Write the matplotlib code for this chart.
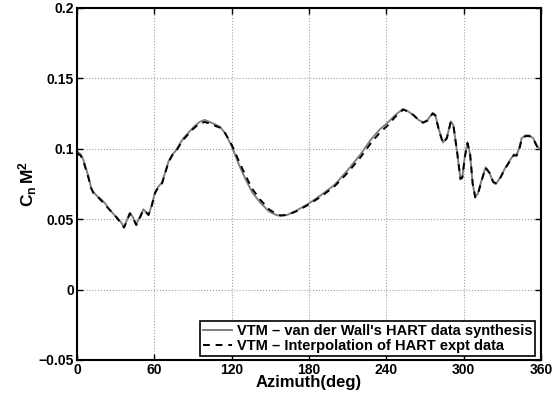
import matplotlib
matplotlib.use("Agg")
import matplotlib.pyplot as plt

plt.rcParams['font.family'] = ['Liberation Sans', 'DejaVu Sans']
plt.rcParams['font.weight'] = 'bold'
plt.rcParams['mathtext.fontset'] = 'custom'
plt.rcParams['mathtext.rm'] = 'Liberation Sans:bold'
plt.rcParams['mathtext.bf'] = 'Liberation Sans:bold'
plt.rcParams['mathtext.it'] = 'Liberation Sans:bold'

azimuth = [0, 3, 5, 7, 9, 11, 13, 16, 19, 22, 25, 28, 31, 34, 36.5, 39, 41, 43, 46, 49,
           51.5, 53.5, 55.5, 58, 60.5, 63, 66, 68, 71, 74, 77, 80, 83, 86, 90, 95, 99,
           103, 108, 111, 115, 120, 126, 131, 136, 142, 149, 155, 158, 163, 170, 180,
           190, 200, 210, 220, 228, 235, 241, 247, 253, 257, 261, 265, 268.5, 272, 276,
           278, 281, 284, 287, 290, 292, 295, 297.5, 299, 301, 303, 305, 307, 309, 311,
           314, 317, 320, 323, 325, 328, 332, 336, 339, 341, 343, 345, 348, 351, 354,
           357, 360]

synthesis = [0.098, 0.096, 0.092, 0.086, 0.080, 0.072, 0.069, 0.066, 0.064, 0.061, 0.057,
             0.054, 0.051, 0.048, 0.0445, 0.050, 0.0545, 0.052, 0.0465, 0.052, 0.057,
             0.055, 0.053, 0.060, 0.069, 0.073, 0.076, 0.082, 0.091, 0.096, 0.099, 0.104,
             0.108, 0.111, 0.115, 0.119, 0.1205, 0.119, 0.117, 0.1155, 0.111, 0.102,
             0.088, 0.078, 0.069, 0.062, 0.0555, 0.0528, 0.0524, 0.0530, 0.0560, 0.0612,
             0.0675, 0.0745, 0.0848, 0.0960, 0.1065, 0.1138, 0.1185, 0.1240, 0.1283,
             0.1265, 0.1240, 0.1205, 0.1188, 0.1205, 0.1255, 0.1240, 0.1130, 0.1045,
             0.1080, 0.1195, 0.1170, 0.0970, 0.0790, 0.0800, 0.0950, 0.1045, 0.0960,
             0.0750, 0.0660, 0.0680, 0.0780, 0.0868, 0.0830, 0.0760, 0.0750, 0.0790,
             0.0860, 0.0920, 0.0960, 0.0955, 0.1000, 0.1075, 0.1095, 0.1095, 0.1075,
             0.1020, 0.0990]

interpolation = [0.097, 0.095, 0.091, 0.085, 0.079, 0.072, 0.068, 0.066, 0.063, 0.060,
                 0.057, 0.054, 0.051, 0.047, 0.0440, 0.0495, 0.0540, 0.0515, 0.0458,
                 0.0515, 0.0565, 0.0550, 0.0530, 0.0595, 0.0685, 0.0725, 0.0755, 0.0815,
                 0.0905, 0.0955, 0.0985, 0.1030, 0.1070, 0.1100, 0.1140, 0.1180, 0.1190,
                 0.1180, 0.1160, 0.1150, 0.1110, 0.1030, 0.0905, 0.0805, 0.0715, 0.0640,
                 0.0570, 0.0535, 0.0527, 0.0530, 0.0555, 0.0605, 0.0665, 0.0735, 0.0830,
                 0.0940, 0.1040, 0.1115, 0.1165, 0.1228, 0.1278, 0.1265, 0.1240, 0.1205,
                 0.1185, 0.1200, 0.1250, 0.1238, 0.1125, 0.1040, 0.1075, 0.1190, 0.1170,
                 0.0975, 0.0785, 0.0795, 0.0945, 0.1040, 0.0965, 0.0755, 0.0655, 0.0675,
                 0.0775, 0.0865, 0.0830, 0.0765, 0.0755, 0.0785, 0.0855, 0.0915, 0.0955,
                 0.0950, 0.0990, 0.1065, 0.1090, 0.1090, 0.1070, 0.1015, 0.0980]

x_ticks = [0, 60, 120, 180, 240, 300, 360]
y_ticks = [-0.05, 0, 0.05, 0.1, 0.15, 0.2]
y_tick_labels = ['\u22120.05', '0', '0.05', '0.1', '0.15', '0.2']

fig = plt.figure(figsize=(5.52, 4.03), dpi=100)
ax = fig.add_axes([0.1395, 0.1067, 0.8405, 0.8735])

ax.plot(azimuth, synthesis, color='#808080', lw=1.4, ls='-',
        label="VTM \u2013 van der Wall's HART data synthesis")
ax.plot(azimuth, interpolation, color='black', lw=1.4, ls=(0, (3.5, 3)),
        label='VTM \u2013 Interpolation of HART expt data')

ax.set_xlim(0, 360)
ax.set_ylim(-0.05, 0.2)
ax.set_xticks(x_ticks)
ax.set_xticklabels([str(t) for t in x_ticks])
ax.set_yticks(y_ticks)
ax.set_yticklabels(y_tick_labels)
ax.tick_params(direction='in', top=True, right=True, labelsize=10, length=4, width=1.0, pad=2)
for lab in ax.get_xticklabels() + ax.get_yticklabels():
    lab.set_fontweight('bold')
ax.grid(True, color='#a0a0a0', ls=':', lw=0.8)
for s in ax.spines.values():
    s.set_linewidth(1.5)

ax.set_xlabel('Azimuth(deg)', fontsize=12, fontweight='bold', labelpad=-1)
ax.set_ylabel(r'$\mathbf{C_n\,M^2}$', fontsize=12.5, labelpad=0)

leg = ax.legend(loc='lower right', bbox_to_anchor=(0.987, 0.011), fontsize=10.5,
                fancybox=False, edgecolor='black', framealpha=1, handlelength=2.0,
                borderpad=0.2, labelspacing=0.1, handletextpad=0.3, borderaxespad=0)
leg.get_frame().set_linewidth(1.2)
for t in leg.get_texts():
    t.set_fontweight('bold')

fig.savefig('out.png', dpi=100)
